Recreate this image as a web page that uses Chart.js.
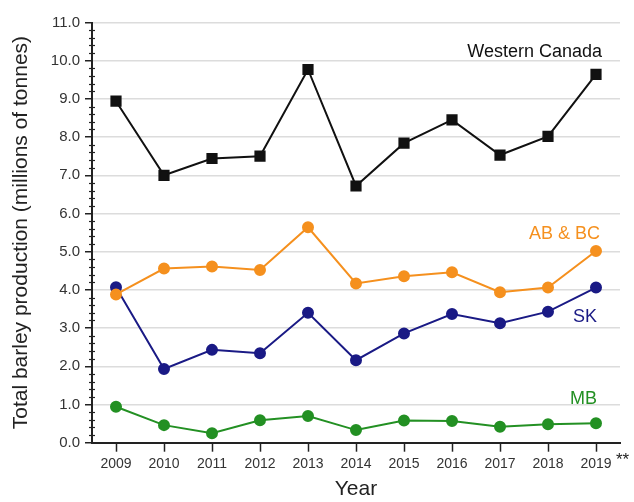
<!DOCTYPE html>
<html>
<head>
<meta charset="utf-8">
<script src="https://cdn.jsdelivr.net/npm/chart.js@4"></script>
<style>
  html, body { margin: 0; padding: 0; background: #fff; }
  #wrap { width: 634px; height: 502px; }
</style>
</head>
<body>
<div id="wrap"><canvas id="c" width="634" height="502"></canvas></div>
<script>
const years = ['2009', '2010', '2011', '2012', '2013', '2014', '2015', '2016', '2017', '2018', '2019'];
const westernCanada = [8.94, 7.00, 7.44, 7.50, 9.77, 6.72, 7.84, 8.45, 7.53, 8.02, 9.64];
const abBc = [3.88, 4.56, 4.61, 4.52, 5.64, 4.17, 4.36, 4.46, 3.94, 4.06, 5.02];
const sk = [4.07, 1.93, 2.43, 2.34, 3.40, 2.16, 2.86, 3.37, 3.13, 3.43, 4.06];
const mb = [0.94, 0.46, 0.25, 0.59, 0.70, 0.33, 0.58, 0.57, 0.42, 0.48, 0.51];

const FONT = 'Arial, "Liberation Sans", sans-serif';

// series name drawn at the right end, above its line
const seriesLabels = {
  id: 'seriesLabels',
  afterDatasetsDraw(chart) {
    const { ctx, scales: { x, y } } = chart;
    ctx.save();
    ctx.font = '18px ' + FONT;
    ctx.textAlign = 'right';
    ctx.textBaseline = 'middle';
    chart.data.datasets.forEach(ds => {
      ctx.fillStyle = ds.borderColor;
      ctx.fillText(ds.label, x.getPixelForValue(years.length - 1) + ds.labelDx, y.getPixelForValue(ds.labelAt));
    });
    // footnote mark after last year
    ctx.fillStyle = '#222';
    ctx.textAlign = 'left';
    ctx.textBaseline = 'alphabetic';
    ctx.font = '17px ' + FONT;
    ctx.fillText('**', x.getPixelForValue(years.length - 1) + 20, 465);
    ctx.restore();
  }
};

// short minor ticks every 0.2 on the y axis
const minorTicks = {
  id: 'minorTicks',
  afterDraw(chart) {
    const { ctx, scales: { y } } = chart;
    const x0 = y.right;
    ctx.save();
    ctx.strokeStyle = '#222';
    ctx.lineWidth = 1.2;
    for (let i = 0; i <= 55; i++) {
      if (i % 5 === 0) continue;
      const py = Math.round(y.getPixelForValue(i / 5)) + 0.5;
      ctx.beginPath();
      ctx.moveTo(x0 - 3, py);
      ctx.lineTo(x0 + 3, py);
      ctx.stroke();
    }
    ctx.restore();
  }
};

const line = (label, data, color, style, radius, labelAt, labelDx) => ({
  label, data, labelAt, labelDx,
  borderColor: color,
  backgroundColor: color,
  borderWidth: 2,
  pointStyle: style,
  pointRadius: radius,
  pointHoverRadius: radius,
  tension: 0,
});

new Chart(document.getElementById('c'), {
  type: 'line',
  data: {
    labels: years,
    datasets: [
      line('Western Canada', westernCanada, '#111111', 'rect', 6.5, 10.23, 6),
      line('AB & BC', abBc, '#F5901E', 'circle', 5, 5.46, 4),
      line('SK', sk, '#1A1A85', 'circle', 5, 3.29, 1),
      line('MB', mb, '#239023', 'circle', 5, 1.14, 1),
    ],
  },
  options: {
    responsive: false,
    animation: false,
    layout: { padding: { top: 22.5, right: 14, bottom: 0, left: 0 } },
    plugins: { legend: { display: false }, tooltip: { enabled: false } },
    scales: {
      x: {
        type: 'category',
        offset: true,
        afterFit: s => { s.height = 59.3; },
        border: { color: '#222', width: 2 },
        grid: { drawOnChartArea: false, tickLength: 9, tickColor: '#222', tickWidth: 1.5, offset: false },
        ticks: { color: '#333', font: { family: FONT, size: 14 }, padding: 4, autoSkip: false, maxRotation: 0 },
        title: { display: true, text: 'Year', color: '#222', font: { family: FONT, size: 21 }, padding: { top: 0, bottom: 0 } },
      },
      y: {
        min: 0,
        max: 11,
        afterFit: s => { s.width = 92; },
        border: { color: '#222', width: 2 },
        grid: {
          color: c => (c.tick && Math.abs(c.tick.value - Math.round(c.tick.value)) < 1e-6 && c.tick.value > 0) ? '#dcdcdc' : 'rgba(0,0,0,0)',
          tickColor: c => (c.tick && Math.abs(c.tick.value - Math.round(c.tick.value)) < 1e-6) ? '#222' : 'rgba(0,0,0,0)',
          tickLength: 7,
          tickWidth: 1.5,
          lineWidth: 1.5,
        },
        ticks: {
          stepSize: 0.2,
          maxTicksLimit: 100,
          autoSkip: false,
          color: '#333',
          padding: 5,
          font: { family: FONT, size: 15 },
          callback: v => Math.abs(v - Math.round(v)) < 1e-6 ? Math.round(v).toFixed(1) : '',
        },
        title: { display: true, text: 'Total barley production (millions of tonnes)', color: '#222', font: { family: FONT, size: 21 }, padding: { top: 9, bottom: 0 } },
      },
    },
  },
  plugins: [seriesLabels, minorTicks],
});
</script>
</body>
</html>
